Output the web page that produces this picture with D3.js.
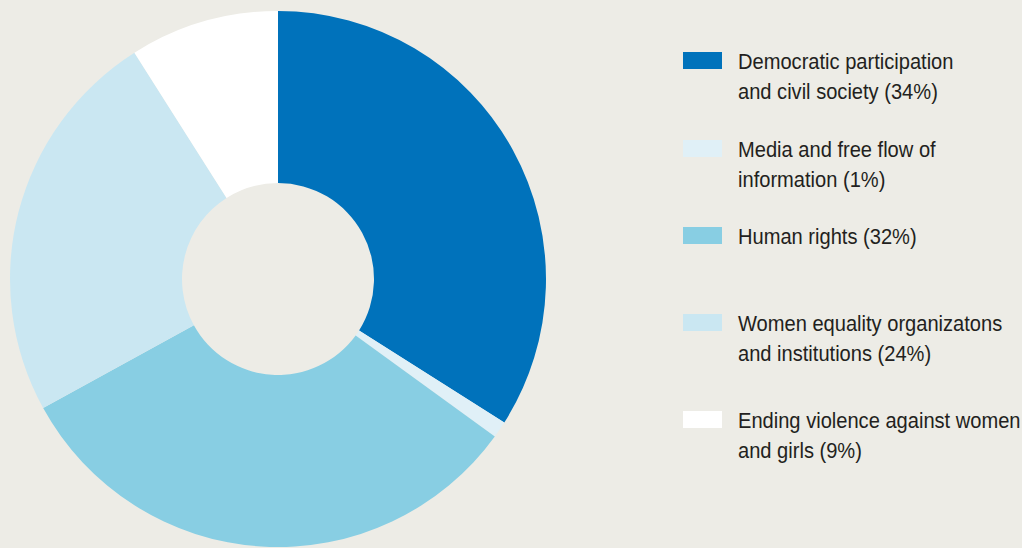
<!DOCTYPE html>
<html>
<head>
<meta charset="utf-8">
<script src="https://cdn.jsdelivr.net/npm/d3@7"></script>
<style>
  html, body { margin: 0; padding: 0; background: #edece6; }
  svg { display: block; }
  .legend-label { font-family: "Liberation Sans", Arial, sans-serif; font-size: 21.5px; fill: #231f20; }
</style>
</head>
<body>
<svg id="chart"></svg>
<script>
// Data
const categories = [
    "Democratic participation and civil society",
    "Media and free flow of information",
    "Human rights",
    "Women equality organizatons and institutions",
    "Ending violence against women and girls"
];
const shares = [34, 1, 32, 24, 9];
const legendLines = [
    ["Democratic participation", "and civil society (34%)"],
    ["Media and free flow of", "information (1%)"],
    ["Human rights (32%)"],
    ["Women equality organizatons", "and institutions (24%)"],
    ["Ending violence against women", "and girls (9%)"]
];
const colors = ["#0072bb", "#e0f0f7", "#88cee3", "#cae7f2", "#ffffff"];

// Layout
const width = 1022, height = 548;
const cx = 278, cy = 279;
const outerR = 268, innerR = 96;
const legendX = 683, legendTextX = 738;
const legendTops = [52, 140, 227, 314, 411];
const lineHeight = 31;
const textSqueeze = 0.935; // condensed look of the original face

const svg = d3.select("#chart")
    .attr("width", width)
    .attr("height", height);

const pie = d3.pie()
    .value(d => d)
    .sort(null);

const arc = d3.arc()
    .innerRadius(innerR)
    .outerRadius(outerR);

const color = d3.scaleOrdinal()
    .domain(categories)
    .range(colors);

// Draw donut
svg.append("g")
   .attr("transform", `translate(${cx},${cy})`)
   .selectAll("path")
   .data(pie(shares))
   .enter()
   .append("path")
   .attr("d", arc)
   .attr("fill", (d, i) => color(categories[i]));

// Legend
const legend = svg.selectAll(".legend-item")
    .data(categories)
    .enter()
    .append("g")
    .attr("class", "legend-item")
    .attr("transform", (d, i) => `translate(0,${legendTops[i]})`);

legend.append("rect")
    .attr("x", legendX)
    .attr("y", 0)
    .attr("width", 39)
    .attr("height", 17)
    .attr("fill", d => color(d));

legend.append("text")
    .attr("class", "legend-label")
    .attr("transform", `translate(${legendTextX},0) scale(${textSqueeze},1)`)
    .selectAll("tspan")
    .data((d, i) => legendLines[i])
    .enter()
    .append("tspan")
    .attr("x", 0)
    .attr("y", (d, j) => 16.5 + j * lineHeight)
    .text(d => d);
</script>
</body>
</html>
